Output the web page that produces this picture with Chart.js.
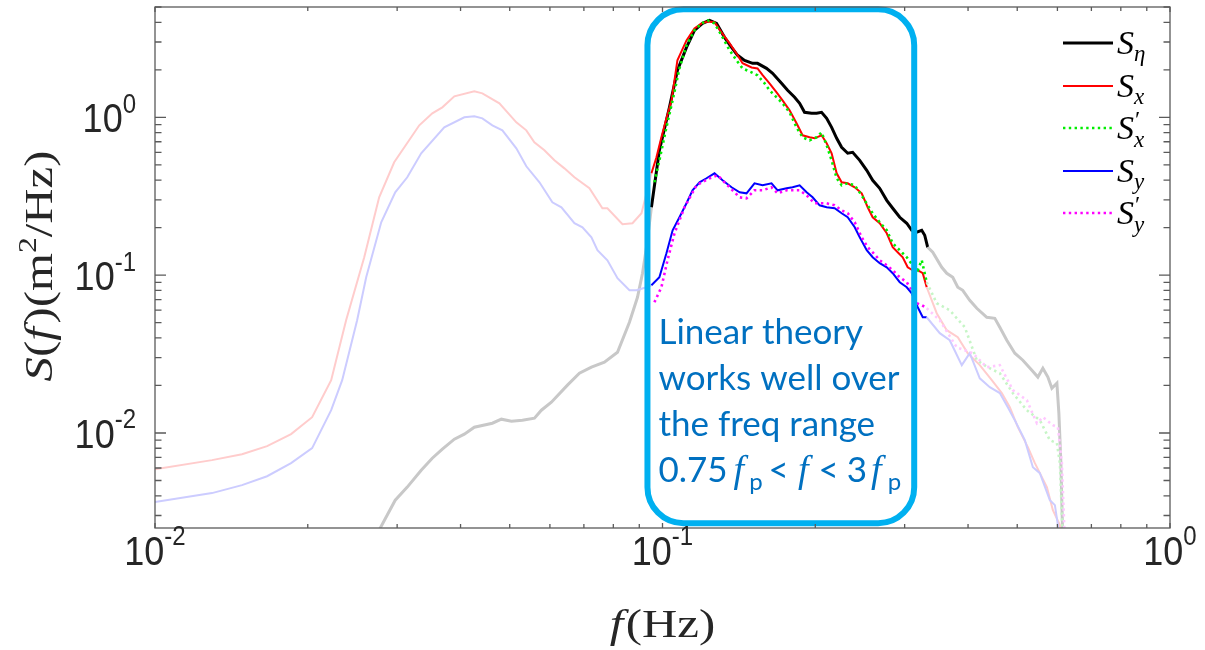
<!DOCTYPE html>
<html>
<head>
<meta charset="utf-8">
<script src="https://cdn.jsdelivr.net/npm/chart.js@4.4.1/dist/chart.umd.min.js"></script>
<style>
  html, body { margin: 0; padding: 0; background: #fff; }
  #wrap { width: 1205px; height: 650px; position: relative; }
</style>
</head>
<body>
<div id="wrap"><canvas id="spec"></canvas></div>
<script>
// spectra (f in Hz, S in m^2/Hz)
const etaF = [0.0276, 0.02974, 0.03141, 0.03346, 0.03518, 0.03683, 0.03889, 0.04069, 0.04258, 0.04621, 0.04814, 0.05038, 0.05296, 0.05594, 0.05772, 0.0604, 0.06497, 0.06859, 0.07244, 0.07683, 0.08153, 0.08607, 0.08927, 0.09133, 0.09299,
  0.0951, 0.0986, 0.1032, 0.107, 0.1115, 0.1156, 0.1199, 0.1238, 0.1278, 0.1325, 0.1368, 0.1406, 0.1451, 0.1505, 0.1539, 0.1603, 0.1648, 0.1716, 0.1764, 0.1821, 0.1863, 0.1905, 0.1967, 0.2012, 0.2058, 0.2106, 0.2154, 0.2204, 0.2254, 0.2317, 0.237, 0.2447, 0.2526, 0.2595, 0.2679, 0.2766, 0.2842, 0.2934, 0.3029, 0.3098, 0.3169, 0.3242, 0.3286, 0.3331,
  0.3408, 0.355, 0.3632, 0.3732, 0.3818, 0.3905, 0.4031, 0.4162, 0.4355, 0.4516, 0.462, 0.4769, 0.4946, 0.5129, 0.5343, 0.5491, 0.5617, 0.5746, 0.5851, 0.5986, 0.604, 0.6095, 0.6151];
const etaS = [0.0024, 0.00375, 0.00454, 0.00581, 0.00692, 0.0079, 0.00913, 0.00983, 0.01088, 0.01153, 0.01223, 0.01188, 0.01205, 0.01241, 0.01394, 0.01567, 0.0201, 0.0239, 0.0261, 0.0281, 0.0325, 0.0503, 0.0724, 0.1028, 0.1502,
  0.2692, 0.618, 1.157, 1.984, 2.776, 3.556, 3.939, 4.114, 3.939, 3.211, 2.776, 2.47, 2.296, 2.198, 2.198, 2.043, 1.899, 1.642, 1.483, 1.339, 1.227, 1.076, 1.06, 1.06, 1.076, 0.9855, 0.864, 0.736, 0.646, 0.592, 0.6, 0.534, 0.4616, 0.399, 0.355, 0.298, 0.2653, 0.2326, 0.2132, 0.1925, 0.187, 0.1925, 0.179, 0.1502,
  0.1396, 0.1122, 0.1028, 0.097, 0.0838, 0.0802, 0.0693, 0.0617, 0.0541, 0.0533, 0.0468, 0.0387, 0.032, 0.0289, 0.025, 0.0226, 0.0257, 0.0226, 0.0192, 0.0207, 0.01335, 0.00644, 0.002];

const sxF = [0.01, 0.01295, 0.01484, 0.01663, 0.01854, 0.0204, 0.02224, 0.0238, 0.02584, 0.02765, 0.0296, 0.03317, 0.03519, 0.03683, 0.03889, 0.04257, 0.04416, 0.04771, 0.05152, 0.05391, 0.05591, 0.05852, 0.06124, 0.06408, 0.06706, 0.07178, 0.07613, 0.07788, 0.08339, 0.08727, 0.09091, 0.09299,
  0.0951, 0.0973, 0.0995, 0.1018, 0.1042, 0.107, 0.1115, 0.1156, 0.1194, 0.1227, 0.1266, 0.1307, 0.1356, 0.1399, 0.1438, 0.1498, 0.1539, 0.1575, 0.1625, 0.1678, 0.1724, 0.178, 0.1837, 0.1888, 0.1949, 0.1994, 0.2058, 0.2106, 0.2154, 0.2204, 0.2254, 0.2317, 0.2392, 0.2469, 0.2537, 0.2595, 0.2679, 0.2766, 0.2842, 0.2907, 0.2974, 0.3042, 0.3112, 0.3184, 0.3257, 0.3316,
  0.347, 0.3632, 0.3818, 0.3995, 0.4219, 0.4455, 0.4662, 0.4835, 0.5014, 0.5247, 0.5417, 0.572, 0.5878, 0.6068, 0.612];
const sxS = [0.0059, 0.00673, 0.00734, 0.00825, 0.00983, 0.01259, 0.0216, 0.0518, 0.1298, 0.3113, 0.519, 0.89, 1.06, 1.157, 1.358, 1.461, 1.419, 1.227, 0.93, 0.827, 0.695, 0.618, 0.534, 0.475, 0.417, 0.355, 0.2653, 0.2653, 0.2101, 0.2132, 0.2466, 0.33,
  0.4418, 0.558, 0.747, 0.985, 1.281, 2.3, 3.07, 3.66, 3.94, 4.05, 4.0, 3.45, 2.94, 2.54, 2.2, 2.07, 2.04, 1.85, 1.64, 1.44, 1.281, 1.107, 0.916, 0.769, 0.747, 0.736, 0.769, 0.685, 0.592, 0.4418, 0.3876, 0.3819, 0.36, 0.33, 0.2692, 0.2326, 0.2132, 0.1842, 0.1502, 0.1396, 0.1298, 0.1122, 0.1074, 0.1074, 0.1028, 0.0838,
  0.0574, 0.0448, 0.0404, 0.032, 0.0269, 0.0216, 0.0179, 0.01457, 0.01088, 0.00813, 0.00644, 0.00454, 0.00324, 0.00261, 0.002];

const sxpF = [0.0964, 0.0986, 0.1018, 0.1047, 0.108, 0.1115, 0.1156, 0.1194, 0.1227, 0.1266, 0.1307, 0.1356, 0.1399, 0.1438, 0.1498, 0.1539, 0.1589, 0.1625, 0.1678, 0.1724, 0.178, 0.1837, 0.1888, 0.1949, 0.2012, 0.2058, 0.2106, 0.2154, 0.2204, 0.2254, 0.2317, 0.2392, 0.2469, 0.2537, 0.2595, 0.2679, 0.2766, 0.2842, 0.2934, 0.3029, 0.3112, 0.3184, 0.3242, 0.3316,
  0.347, 0.3681, 0.3941, 0.4162, 0.4375, 0.462, 0.4901, 0.5223, 0.5541, 0.5798, 0.5986, 0.6068, 0.6151];
const sxpS = [0.3876, 0.534, 0.864, 1.281, 2.043, 2.858, 3.556, 3.939, 4.114, 3.939, 3.306, 2.657, 2.296, 2.043, 1.927, 1.845, 1.642, 1.483, 1.339, 1.227, 1.076, 0.864, 0.747, 0.715, 0.747, 0.803, 0.665, 0.534, 0.411, 0.371, 0.3819, 0.371, 0.3206, 0.2771, 0.2466, 0.2163, 0.1925, 0.1592, 0.1438, 0.1298, 0.1155, 0.1074, 0.1243, 0.0902,
  0.0664, 0.0599, 0.0468, 0.0289, 0.0261, 0.0239, 0.0179, 0.01394, 0.01205, 0.009, 0.00862, 0.00644, 0.002];

const syF = [0.01, 0.01295, 0.01484, 0.01663, 0.01854, 0.0204, 0.02224, 0.02338, 0.02502, 0.02607, 0.02791, 0.02974, 0.03141, 0.03346, 0.03715, 0.04069, 0.04258, 0.04416, 0.04621, 0.04836, 0.05152, 0.05391, 0.05722, 0.06067, 0.06321, 0.06706, 0.06955, 0.07244, 0.07444, 0.07788, 0.08153, 0.08607, 0.08886, 0.09299,
  0.0951, 0.0986, 0.1018, 0.1047, 0.108, 0.1115, 0.1146, 0.1183, 0.1221, 0.1266, 0.1313, 0.1368, 0.1419, 0.1464, 0.1518, 0.1575, 0.164, 0.1686, 0.1756, 0.1804, 0.1863, 0.1923, 0.1976, 0.204, 0.2106, 0.2184, 0.2254, 0.2317, 0.2392, 0.2447, 0.2526, 0.2595, 0.2679, 0.2766, 0.2842, 0.2934, 0.3029, 0.3098, 0.3184, 0.3257, 0.3316,
  0.3518, 0.3681, 0.3888, 0.4031, 0.4219, 0.4415, 0.462, 0.4791, 0.4946, 0.5176, 0.5368, 0.5541, 0.5798, 0.5932, 0.6013, 0.605];
const syS = [0.00365, 0.00416, 0.00467, 0.00532, 0.00644, 0.00801, 0.01394, 0.0216, 0.0518, 0.097, 0.2163, 0.335, 0.417, 0.592, 0.864, 1.0, 1.015, 0.9855, 0.89, 0.827, 0.6365, 0.4894, 0.3876, 0.2895, 0.2692, 0.2132, 0.2011, 0.1738, 0.1438, 0.1243, 0.0956, 0.0802, 0.0802, 0.0838,
  0.0863, 0.097, 0.1376, 0.1925, 0.2326, 0.2853, 0.3448, 0.3876, 0.411, 0.4418, 0.399, 0.3603, 0.335, 0.33, 0.3819, 0.371, 0.3819, 0.3448, 0.355, 0.3603, 0.371, 0.335, 0.3113, 0.2771, 0.2692, 0.2653, 0.2466, 0.2326, 0.2011, 0.1738, 0.1438, 0.1298, 0.119, 0.1122, 0.1028, 0.0902, 0.0838, 0.0768, 0.0626, 0.0541, 0.0541,
  0.0429, 0.0387, 0.0269, 0.032, 0.0222, 0.0195, 0.0179, 0.01457, 0.01205, 0.009, 0.00607, 0.00556, 0.00375, 0.00349, 0.00261, 0.002];

const sypF = [0.0964, 0.0995, 0.1023, 0.1056, 0.1105, 0.1167, 0.1238, 0.1284, 0.1343, 0.1419, 0.1464, 0.1518, 0.1575, 0.164, 0.1686, 0.1756, 0.1863, 0.1923, 0.1994, 0.2106, 0.2184, 0.2254, 0.2317, 0.2392, 0.2469, 0.2537, 0.2595, 0.2679, 0.2766, 0.2842, 0.2934, 0.3029, 0.3098, 0.3169, 0.3242, 0.3316,
  0.3518, 0.38, 0.4087, 0.4355, 0.462, 0.4901, 0.5223, 0.5466, 0.5617, 0.5878, 0.6013, 0.6123, 0.6207];
const sypS = [0.0673, 0.0838, 0.1243, 0.1842, 0.2692, 0.371, 0.411, 0.4292, 0.371, 0.3113, 0.307, 0.3448, 0.3448, 0.3603, 0.33, 0.3448, 0.3448, 0.3206, 0.2853, 0.2853, 0.2771, 0.2576, 0.2466, 0.2163, 0.1738, 0.1502, 0.1396, 0.1243, 0.1155, 0.1074, 0.097, 0.0902, 0.0802, 0.0664, 0.0645, 0.0617,
  0.0518, 0.0349, 0.032, 0.0261, 0.0269, 0.0187, 0.01613, 0.01153, 0.01259, 0.0112, 0.01088, 0.00644, 0.002];

const xTicks = [0.01, 0.1, 1];
const yTicks = [0.01, 0.1, 1];
const tickExp = { 0.01: '-2', 0.1: '-1', 1: '0' };
const noteLines = ['Linear theory', 'works well over', 'the freq range'];

// highlighted band and the hand-drawn box around it
const fLo = 0.0945, fHi = 0.333;
const boxF = [0.0934, 0.3133];
const boxS = [4.83, 0.00268];

function pts(f, s) { return f.map((v, i) => ({ x: v, y: s[i] })); }
function band(on, off) {
  return c => {
    const m = Math.sqrt(c.p0.parsed.x * c.p1.parsed.x);
    return (m > fLo && m < fHi) ? on : off;
  };
}

const series = [
  { key: 'eta', f: etaF, s: etaS, col: '#000000', faint: '#c8c8c8', w: 3, dash: [] },
  { key: 'x', f: sxF, s: sxS, col: '#ff0000', faint: '#ffcccc', w: 2, dash: [] },
  { key: 'xp', f: sxpF, s: sxpS, col: '#00ee00', faint: '#c6f5c6', w: 2.6, dash: [2.4, 3.4] },
  { key: 'y', f: syF, s: syS, col: '#0000ff', faint: '#ccccff', w: 2, dash: [] },
  { key: 'yp', f: sypF, s: sypS, col: '#ff00ff', faint: '#ffc8ff', w: 2.6, dash: [2.4, 3.4] }
];

const SERIF = '"Liberation Serif", "Times New Roman", Times, serif';
const SANS = '"Liberation Sans", Arial, Helvetica, sans-serif';
const mi = sz => 'italic ' + sz + 'px ' + SERIF;
const mr = sz => sz + 'px ' + SERIF;

function drawRuns(c, runs, x, y) {
  let cx = x;
  for (const r of runs) {
    c.font = r.font;
    c.fillText(r.t, cx + (r.dx || 0), y + (r.dy || 0));
    if (!r.stack) cx += c.measureText(r.t).width + (r.gap || 0);
  }
  return cx;
}
function runsWidth(c, runs) {
  let w = 0;
  for (const r of runs) {
    c.font = r.font;
    if (!r.stack) w += c.measureText(r.t).width + (r.gap || 0);
  }
  return w;
}

const legendRows = [
  [{ t: 'S', font: mi(34) }, { t: 'η', font: mi(23), dy: 7 }],
  [{ t: 'S', font: mi(34) }, { t: 'x', font: mi(23), dy: 7 }],
  [{ t: 'S', font: mi(34) }, { t: '′', font: mr(24), dy: -12, dx: 1, stack: true }, { t: 'x', font: mi(23), dy: 8 }],
  [{ t: 'S', font: mi(34) }, { t: 'y', font: mi(23), dy: 7 }],
  [{ t: 'S', font: mi(34) }, { t: '′', font: mr(24), dy: -12, dx: 1, stack: true }, { t: 'y', font: mi(23), dy: 8 }]
];

const decor = {
  id: 'decor',
  afterDatasetsDraw(chart) {
    const c = chart.ctx;
    const { left, right, top, bottom } = chart.chartArea;
    const xs = chart.scales.x, ys = chart.scales.y;
    c.save();

    // highlight box
    const bx0 = xs.getPixelForValue(boxF[0]), bx1 = xs.getPixelForValue(boxF[1]);
    const by0 = ys.getPixelForValue(boxS[0]), by1 = ys.getPixelForValue(boxS[1]);
    c.strokeStyle = '#00b0f0';
    c.lineWidth = 6;
    c.beginPath();
    c.roundRect(bx0, by0, bx1 - bx0, by1 - by0, 36);
    c.stroke();

    // note text
    c.fillStyle = '#0070c0';
    c.textBaseline = 'alphabetic';
    c.textAlign = 'left';
    const sans = '35px Lato', sub = '24px Lato', ff = mi(38);
    c.font = sans;
    const tx = bx0 + 11;
    noteLines.forEach((t, i) => c.fillText(t, tx, 344 + i * 46));
    drawRuns(c, [
      { t: '0.75', font: sans, gap: 6 },
      { t: 'f', font: ff, gap: 5 },
      { t: 'p', font: sub, dy: 8, gap: 6 },
      { t: '<', font: sans, gap: 9 },
      { t: 'f', font: ff, gap: 10 },
      { t: '<', font: sans, gap: 8 },
      { t: '3', font: sans, gap: 4 },
      { t: 'f', font: ff, gap: 6 },
      { t: 'p', font: sub, dy: 8 }
    ], tx, 482);

    // legend
    const rowY = [43, 86, 128, 171, 213];
    series.forEach((s, i) => {
      c.strokeStyle = s.col;
      c.lineWidth = s.w;
      c.setLineDash(s.dash);
      c.beginPath();
      c.moveTo(1063, rowY[i]);
      c.lineTo(1113, rowY[i]);
      c.stroke();
      c.setLineDash([]);
      c.fillStyle = '#000';
      drawRuns(c, legendRows[i], 1117, rowY[i] + 11);
    });

    // axes frame and inward ticks (all four sides)
    c.strokeStyle = '#5a5a5a';
    c.lineWidth = 1.3;
    c.strokeRect(left, top, right - left, bottom - top);
    c.beginPath();
    for (let d = -2; d <= 0; d++) {
      for (let m = 1; m <= 9; m++) {
        const v = m * Math.pow(10, d);
        if (v >= 0.01 && v <= 1) {
          const px = xs.getPixelForValue(v);
          const L = m === 1 ? 5 : 4;
          c.moveTo(px, bottom); c.lineTo(px, bottom - L);
          c.moveTo(px, top); c.lineTo(px, top + L);
        }
      }
    }
    for (let d = -3; d <= 0; d++) {
      for (let m = 1; m <= 9; m++) {
        const v = m * Math.pow(10, d);
        if (v >= 0.0025 && v <= 5) {
          const py = ys.getPixelForValue(v);
          const L = m === 1 ? 11 : 6.5;
          c.moveTo(left, py); c.lineTo(left + L, py);
          c.moveTo(right, py); c.lineTo(right - L, py);
        }
      }
    }
    c.stroke();

    // tick labels 10^n
    c.fillStyle = '#262626';
    const big = '36px ' + SANS, small = '24px ' + SANS;
    const label = v => [{ t: '10', font: big }, { t: tickExp[v], font: small, dy: -17 }];
    xTicks.forEach(v => {
      const runs = label(v);
      const w = runsWidth(c, runs);
      c.save();
      c.translate(xs.getPixelForValue(v) - w / 2, 565);
      c.scale(1, 1.15);
      drawRuns(c, runs, 0, 0);
      c.restore();
    });
    yTicks.forEach(v => {
      const runs = label(v);
      const w = runsWidth(c, runs);
      c.save();
      c.translate(136 - w, ys.getPixelForValue(v) + 15);
      c.scale(1, 1.15);
      drawRuns(c, runs, 0, 0);
      c.restore();
    });

    // axis titles
    const xt = [{ t: 'f', font: mi(40), gap: 2 }, { t: '(Hz)', font: mr(40) }];
    c.save();
    c.translate((left + right) / 2, 637);
    c.scale(1.22, 1);
    drawRuns(c, xt, -runsWidth(c, xt) / 2, 0);
    c.restore();

    const yt = [
      { t: 'S', font: mi(40) }, { t: '(', font: mr(40) }, { t: 'f', font: mi(40), gap: 3 }, { t: ')(m', font: mr(40) },
      { t: '2', font: mr(26), dy: -16 }, { t: '/Hz)', font: mr(40) }
    ];
    c.save();
    c.translate(52, 266);
    c.rotate(-Math.PI / 2);
    c.scale(1.22, 1);
    drawRuns(c, yt, -runsWidth(c, yt) / 2, 0);
    c.restore();

    c.restore();
  }
};

new Chart(document.getElementById('spec'), {
  type: 'line',
  data: {
    datasets: series.map((s, i) => ({
      label: s.key,
      data: pts(s.f, s.s),
      borderColor: s.col,
      borderWidth: s.w,
      borderDash: s.dash,
      order: series.length - i,
      segment: { borderColor: band(s.col, s.faint) }
    }))
  },
  options: {
    responsive: true,
    maintainAspectRatio: false,
    animation: false,
    layout: { padding: { left: 155, right: 35, top: 7, bottom: 122 } },
    plugins: { legend: { display: false }, tooltip: { enabled: false } },
    elements: { point: { radius: 0 }, line: { tension: 0 } },
    scales: {
      x: { type: 'logarithmic', min: 0.01, max: 1, display: false },
      y: { type: 'logarithmic', min: 0.0025, max: 5, display: false }
    }
  },
  plugins: [decor]
});
</script>
</body>
</html>
